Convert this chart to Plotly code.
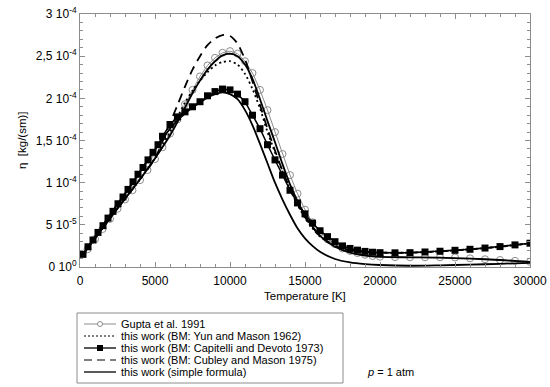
import numpy as np
import plotly.graph_objects as go

# ---------------- data (viscosity in units of 1e-5 kg/(s m)) ----------------
T_grid = [250, 1000, 2000, 3000, 4000, 5000, 6000, 6500, 7000, 7500, 8000, 8500,
          9000, 9500, 10000, 10500, 11000, 11500, 12000, 12500, 13000, 13500,
          14000, 14500, 15000, 15500, 16000, 17000, 18000, 19000, 20000, 22000,
          24000, 26000, 28000, 30000]

eta_simple = [1.6, 3.4, 5.8, 8.1, 10.4, 12.9, 15.6, 17.2, 18.9, 20.6, 22.1, 23.4,
              24.4, 25.1, 25.3, 25.0, 24.0, 22.3, 19.9, 17.3, 14.8, 12.2,
              9.8, 7.8, 6.1, 4.8, 3.7, 2.4, 1.7, 1.35, 1.2, 1.15,
              1.12, 1.0, 0.83, 0.6]

eta_yun = [1.6, 3.4, 5.8, 8.1, 10.4, 12.9, 16.0, 17.8, 19.5, 20.9, 22.1, 23.1,
           23.9, 24.3, 24.4, 24.0, 22.9, 21.1, 18.8, 16.0, 13.6, 11.3,
           9.2, 7.4, 5.8, 4.6, 3.6, 2.5, 2.0, 1.8, 1.7, 1.7,
           1.85, 2.1, 2.4, 2.8]

eta_cubley = [1.6, 3.4, 5.8, 8.1, 10.4, 12.9, 17.1, 19.2, 21.4, 23.4, 25.0, 26.3,
              27.1, 27.5, 27.4, 26.5, 24.6, 22.0, 19.2, 16.4, 13.8, 11.4,
              9.3, 7.5, 5.9, 4.7, 3.7, 2.5, 2.0, 1.8, 1.7, 1.7,
              1.85, 2.1, 2.4, 2.8]

eta_other = [1.6, 3.6, 6.2, 8.7, 11.3, 13.9, 16.4, 17.4, 18.2, 18.9, 19.5, 20.1,
             20.5, 20.7, 20.5, 19.9, 18.6, 16.8, 14.6, 12.3, 10.0, 8.0,
             6.2, 4.6, 3.4, 2.5, 1.8, 0.95, 0.55, 0.35, 0.24, 0.15,
             0.2, 0.28, 0.38, 0.5]

T_gupta = list(range(500, 20001, 500)) + list(range(21000, 30001, 1000))
eta_gupta = [2.1, 3.3, 4.5, 5.7, 6.9, 8.0, 9.1, 10.3, 11.5, 12.8,
             14.2, 15.8, 17.5, 19.3, 21.0, 22.6, 23.9, 24.8, 25.4, 25.6,
             25.3, 24.4, 23.0, 21.0, 18.6, 16.0, 13.4, 10.9, 8.7, 6.8,
             5.3, 4.1, 3.3, 2.7, 2.2, 1.9, 1.65, 1.45, 1.3, 1.22,
             1.17, 1.15, 1.15, 1.15, 1.13, 1.03, 0.92, 0.83, 0.73, 0.62]

T_capitelli = ([200, 533, 867, 1200, 1533, 1867, 2200, 2533, 2867, 3200, 3533,
                3867, 4200, 4533, 4867, 5200]
               + list(range(5500, 20001, 500)) + list(range(21000, 30001, 1000)))
eta_capitelli = ([1.5, 2.4, 3.2, 4.1, 4.9, 5.8, 6.6, 7.5, 8.3, 9.2, 10.1, 11.0,
                  11.8, 12.7, 13.6, 14.5]
                 + [15.5, 16.9, 17.8, 18.4, 19.0, 19.6, 20.3, 20.8, 21.1, 21.0,
                    20.5, 19.6, 18.0, 16.4, 14.5, 12.7, 10.9, 9.1, 7.6, 6.3,
                    5.2, 4.3, 3.6, 3.0, 2.5, 2.2, 2.0, 1.85, 1.75, 1.7]
                 + [1.68, 1.7, 1.78, 1.87, 1.98, 2.1, 2.25, 2.42, 2.62, 2.82])

y_tickvals = [0, 5e-5, 1e-4, 1.5e-4, 2e-4, 2.5e-4, 3e-4]
y_ticktext = ["0 10<sup>0</sup>", "5 10<sup>-5</sup>", "1 10<sup>-4</sup>",
              "1,5 10<sup>-4</sup>", "2 10<sup>-4</sup>", "2,5 10<sup>-4</sup>",
              "3 10<sup>-4</sup>"]
x_tickvals = [0, 5000, 10000, 15000, 20000, 25000, 30000]

legend_labels = ["Gupta et al. 1991",
                 "this work (BM: Yun and Mason 1962)",
                 "this work (BM: Capitelli and Devoto 1973)",
                 "this work (BM: Cubley and Mason 1975)",
                 "this work (simple formula)"]

SCALE = 1e-5
FONT = "Liberation Sans, Arial, Helvetica, sans-serif"
GRAY = "#8c8c8c"

fig = go.Figure()

fig.add_trace(go.Scatter(
    x=T_gupta, y=np.array(eta_gupta) * SCALE, mode="lines+markers",
    line=dict(color=GRAY, width=1),
    marker=dict(symbol="circle-open", size=7, color=GRAY, line=dict(width=1)),
    showlegend=False))

fig.add_trace(go.Scatter(
    x=T_grid, y=np.array(eta_yun) * SCALE, mode="lines",
    line=dict(color="black", width=1.8, dash="2px,3px", shape="spline", smoothing=0.8),
    showlegend=False))

fig.add_trace(go.Scatter(
    x=T_grid, y=np.array(eta_cubley) * SCALE, mode="lines",
    line=dict(color="black", width=1.8, dash="9px,6px", shape="spline", smoothing=0.8),
    showlegend=False))

fig.add_trace(go.Scatter(
    x=T_grid, y=np.array(eta_simple) * SCALE, mode="lines",
    line=dict(color="black", width=1.8, shape="spline", smoothing=0.8),
    showlegend=False))

fig.add_trace(go.Scatter(
    x=T_grid, y=np.array(eta_other) * SCALE, mode="lines",
    line=dict(color="black", width=1.8, shape="spline", smoothing=0.8),
    showlegend=False))

fig.add_trace(go.Scatter(
    x=T_capitelli, y=np.array(eta_capitelli) * SCALE, mode="lines+markers",
    line=dict(color="black", width=1.5),
    marker=dict(symbol="square", size=7, color="black"),
    showlegend=False))

# ---------------- layout ----------------
L, R, TOP, BOT = 80, 530, 14, 267


def px_x(p):
    return (p - L) / (R - L)


def px_y(p):
    return (BOT - p) / (BOT - TOP)


axis_common = dict(showline=True, linecolor=GRAY, linewidth=1, mirror="ticks",
                   ticks="inside", ticklen=5, tickcolor=GRAY, showgrid=False,
                   zeroline=False, automargin=False,
                   tickfont=dict(family=FONT, size=12, color="black"))

fig.update_xaxes(range=[0, 30000], tickmode="array", tickvals=x_tickvals,
                 ticktext=[str(v) for v in x_tickvals], ticklabelstandoff=3,
                 minor=dict(tickmode="linear", tick0=0, dtick=1000, ticks="inside",
                            ticklen=3, tickcolor=GRAY),
                 **axis_common)
fig.update_yaxes(range=[0, 3e-4], tickmode="array", tickvals=y_tickvals,
                 ticktext=y_ticktext,
                 minor=dict(tickmode="linear", tick0=0, dtick=1e-5, ticks="inside",
                            ticklen=3, tickcolor=GRAY),
                 **axis_common)

annotations = [
    dict(x=px_x(305), y=px_y(296), xref="paper", yref="paper", showarrow=False,
         xanchor="center", yanchor="middle",
         text="Temperature [K]", font=dict(family=FONT, size=11.5, color="black")),
    dict(x=px_x(22), y=px_y(140), xref="paper", yref="paper", showarrow=False,
         xanchor="center", yanchor="middle",
         text="η  [kg/(sm)]", textangle=-90,
         font=dict(family=FONT, size=11.5, color="black")),
    dict(x=px_x(365), y=px_y(372), xref="paper", yref="paper", showarrow=False,
         xanchor="left", yanchor="middle", text="<i>p</i> = 1 atm",
         font=dict(family=FONT, size=11, color="black")),
]

rows = [324, 336, 348, 360, 372]
for lab, ry in zip(legend_labels, rows):
    annotations.append(dict(x=px_x(119), y=px_y(ry), xref="paper", yref="paper",
                            showarrow=False, xanchor="left", yanchor="middle",
                            text=lab, font=dict(family=FONT, size=11, color="black")))

shapes = [dict(type="rect", xref="paper", yref="paper",
               x0=px_x(77), x1=px_x(343), y0=px_y(313), y1=px_y(383),
               line=dict(color=GRAY, width=1))]
styles = [(GRAY, 1, "solid"), ("black", 1, "2px,2px"), ("black", 1.3, "solid"),
          ("black", 1, "8px,5px"), ("black", 1.3, "solid")]
for (col, w, d), ry in zip(styles, rows):
    shapes.append(dict(type="line", xref="paper", yref="paper",
                       x0=px_x(84), x1=px_x(116), y0=px_y(ry), y1=px_y(ry),
                       line=dict(color=col, width=w, dash=d)))
# legend markers
shapes.append(dict(type="circle", xref="paper", yref="paper",
                   x0=px_x(97.5), x1=px_x(102.5), y0=px_y(rows[0] - 2.5),
                   y1=px_y(rows[0] + 2.5), line=dict(color=GRAY, width=1),
                   fillcolor="white"))
shapes.append(dict(type="rect", xref="paper", yref="paper",
                   x0=px_x(97), x1=px_x(103), y0=px_y(rows[2] - 3),
                   y1=px_y(rows[2] + 3), line=dict(color="black", width=0),
                   fillcolor="black"))

fig.update_layout(width=550, height=387,
                  margin=dict(l=L, r=550 - R, t=TOP, b=387 - BOT, autoexpand=False),
                  plot_bgcolor="white", paper_bgcolor="white",
                  font=dict(family=FONT, size=11, color="black"),
                  annotations=annotations, shapes=shapes, showlegend=False)

fig.write_html("out.html", config={"displayModeBar": False},
               post_script="document.body.style.margin='0';"
                           "document.body.style.padding='0';"
                           "document.body.style.overflow='hidden';")
